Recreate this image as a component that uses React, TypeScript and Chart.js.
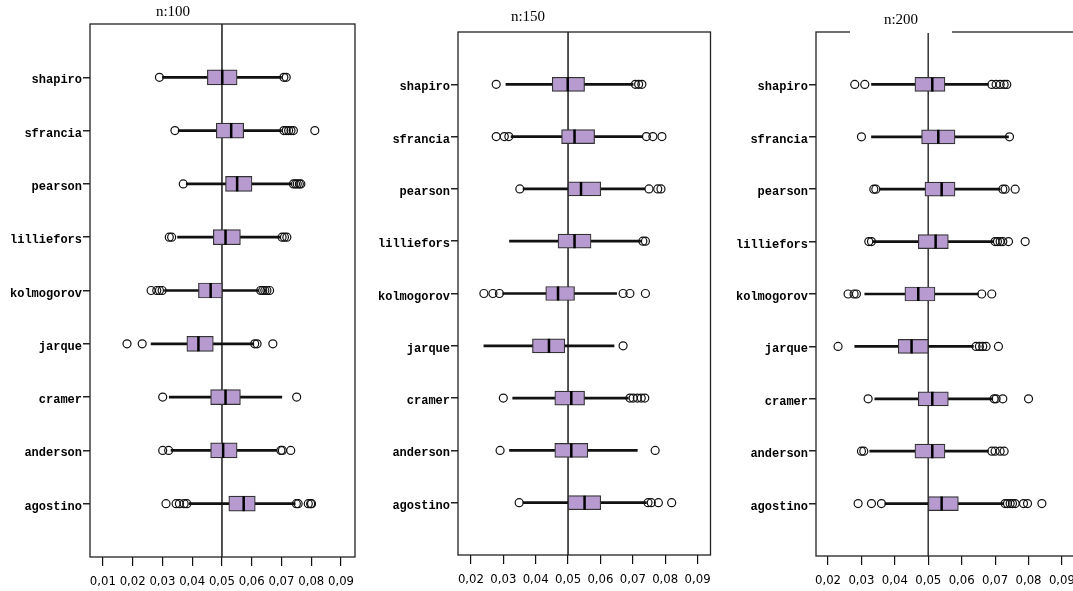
import React, { useEffect, useRef } from 'react';
import { Chart, registerables } from 'chart.js';

Chart.register(...registerables);

const CATEGORIES = ['shapiro', 'sfrancia', 'pearson', 'lilliefors', 'kolmogorov', 'jarque', 'cramer', 'anderson', 'agostino'];
const REF_VALUE = 0.05;
const TITLES = ['n:100', 'n:150', 'n:200'];

// ---- n:100 ----
const N100_Q1 = [0.0451, 0.0481, 0.0512, 0.0471, 0.0421, 0.0382, 0.0462, 0.0462, 0.0523];
const N100_MEDIAN = [0.0501, 0.0531, 0.0551, 0.0512, 0.0462, 0.0421, 0.0512, 0.0504, 0.0573];
const N100_Q3 = [0.0551, 0.0573, 0.0601, 0.0562, 0.0501, 0.0471, 0.0562, 0.0551, 0.0612];
const N100_LO = [0.0300, 0.0353, 0.0380, 0.0351, 0.0307, 0.0262, 0.0323, 0.0329, 0.0390];
const N100_HI = [0.0700, 0.0700, 0.0734, 0.0696, 0.0623, 0.0607, 0.0701, 0.0684, 0.0746];
const N100_OUTLIERS = [
  [0.0290, 0.0708, 0.0716],
  [0.0342, 0.0708, 0.0716, 0.0724, 0.0732, 0.0740, 0.0812],
  [0.0370, 0.0740, 0.0747, 0.0753, 0.0760, 0.0765],
  [0.0323, 0.0331, 0.0702, 0.0710, 0.0718],
  [0.0262, 0.0281, 0.0290, 0.0299, 0.0630, 0.0637, 0.0644, 0.0651, 0.0660],
  [0.0181, 0.0232, 0.0610, 0.0618, 0.0671],
  [0.0301, 0.0751],
  [0.0301, 0.0321, 0.0698, 0.0703, 0.0731],
  [0.0312, 0.0346, 0.0357, 0.0373, 0.0382, 0.0750, 0.0756, 0.0790, 0.0798, 0.0801],
];
const N100_TICKS = [0.01, 0.02, 0.03, 0.04, 0.05, 0.06, 0.07, 0.08, 0.09];
const N100_TICK_LABELS = ['0,01', '0,02', '0,03', '0,04', '0,05', '0,06', '0,07', '0,08', '0,09'];

// ---- n:150 ----
const N150_Q1 = [0.0451, 0.0480, 0.0500, 0.0469, 0.0431, 0.0390, 0.0459, 0.0459, 0.0500];
const N150_MEDIAN = [0.0499, 0.0520, 0.0540, 0.0520, 0.0469, 0.0441, 0.0510, 0.0510, 0.0551];
const N150_Q3 = [0.0551, 0.0582, 0.0601, 0.0571, 0.0520, 0.0490, 0.0551, 0.0561, 0.0601];
const N150_LO = [0.0308, 0.0324, 0.0361, 0.0319, 0.0298, 0.0240, 0.0329, 0.0319, 0.0361];
const N150_HI = [0.0701, 0.0731, 0.0737, 0.0724, 0.0650, 0.0642, 0.0686, 0.0714, 0.0742];
const N150_OUTLIERS = [
  [0.0278, 0.0708, 0.0718, 0.0728],
  [0.0278, 0.0303, 0.0317, 0.0742, 0.0762, 0.0790],
  [0.0351, 0.0750, 0.0777, 0.0787],
  [0.0731, 0.0739],
  [0.0240, 0.0268, 0.0288, 0.0670, 0.0691, 0.0739],
  [0.0670],
  [0.0300, 0.0691, 0.0701, 0.0714, 0.0726, 0.0737],
  [0.0290, 0.0769],
  [0.0349, 0.0747, 0.0757, 0.0779, 0.0820],
];
const N150_TICKS = [0.02, 0.03, 0.04, 0.05, 0.06, 0.07, 0.08, 0.09];
const N150_TICK_LABELS = ['0,02', '0,03', '0,04', '0,05', '0,06', '0,07', '0,08', '0,09'];

// ---- n:200 ----
const N200_Q1 = [0.0460, 0.0480, 0.0490, 0.0470, 0.0430, 0.0410, 0.0470, 0.0460, 0.0500];
const N200_MEDIAN = [0.0512, 0.0530, 0.0540, 0.0522, 0.0470, 0.0450, 0.0512, 0.0512, 0.0540];
const N200_Q3 = [0.0550, 0.0580, 0.0580, 0.0560, 0.0520, 0.0500, 0.0560, 0.0550, 0.0590];
const N200_LO = [0.0330, 0.0330, 0.0355, 0.0335, 0.0310, 0.0280, 0.0340, 0.0325, 0.0370];
const N200_HI = [0.0680, 0.0740, 0.0715, 0.0695, 0.0650, 0.0635, 0.0693, 0.0680, 0.0725];
const N200_OUTLIERS = [
  [0.0280, 0.0310, 0.0690, 0.0703, 0.0715, 0.0727, 0.0735],
  [0.0300, 0.0743],
  [0.0337, 0.0343, 0.0723, 0.0730, 0.0760],
  [0.0322, 0.0330, 0.0700, 0.0707, 0.0715, 0.0723, 0.0740, 0.0790],
  [0.0260, 0.0278, 0.0285, 0.0660, 0.0690],
  [0.0230, 0.0643, 0.0653, 0.0663, 0.0673, 0.0710],
  [0.0320, 0.0697, 0.0703, 0.0723, 0.0800],
  [0.0300, 0.0307, 0.0690, 0.0700, 0.0715, 0.0727],
  [0.0290, 0.0330, 0.0360, 0.0730, 0.0737, 0.0745, 0.0752, 0.0760, 0.0785, 0.0797, 0.0840],
];
const N200_TICKS = [0.02, 0.03, 0.04, 0.05, 0.06, 0.07, 0.08, 0.09];
const N200_TICK_LABELS = ['0,02', '0,03', '0,04', '0,05', '0,06', '0,07', '0,08', '0,09'];

const BOX_COLOR = '#b79bd0';
const Y_LABELS = ['', ...CATEGORIES, ' '];

type PanelData = {
  q1: number[]; med: number[]; q3: number[]; lo: number[]; hi: number[]; outliers: number[][];
  ticks: number[]; tickLabels: string[]; xMin: number; xMax: number;
};

type PanelLayout = {
  left: number; width: number; yAxisWidth: number; padTop: number; padRight: number;
  xAxisHeight: number; barThickness: number;
};

const framePlugin = {
  id: 'frame',
  afterDraw(chart: any) {
    const { ctx, chartArea } = chart;
    ctx.save();
    ctx.strokeStyle = '#222';
    ctx.lineWidth = 1.3;
    ctx.strokeRect(chartArea.left, chartArea.top, chartArea.right - chartArea.left, chartArea.bottom - chartArea.top);
    ctx.restore();
  },
};

function pad(arr: any[]) {
  return [null, ...arr, null];
}

function buildConfig(d: PanelData, l: PanelLayout): any {
  const outlierPoints: { x: number; y: string }[] = [];
  d.outliers.forEach((list, i) => list.forEach((v) => outlierPoints.push({ x: v, y: CATEGORIES[i] })));
  const medianPoints = d.med.map((v, i) => ({ x: v, y: CATEGORIES[i] }));
  const lastIdx = Y_LABELS.length - 1;
  return {
    type: 'bar',
    data: {
      labels: Y_LABELS,
      datasets: [
        {
          type: 'scatter',
          data: [{ x: REF_VALUE, y: Y_LABELS[0] }, { x: REF_VALUE, y: Y_LABELS[lastIdx] }],
          showLine: true,
          borderColor: '#3a3a3a',
          borderWidth: 1,
          pointRadius: 0,
          order: 5,
        },
        {
          type: 'bar',
          data: pad(d.lo.map((v, i) => [v, d.hi[i]])),
          backgroundColor: '#111',
          borderWidth: 0,
          barThickness: 2,
          grouped: false,
          order: 4,
        },
        {
          type: 'bar',
          data: pad(d.q1.map((v, i) => [v, d.q3[i]])),
          backgroundColor: BOX_COLOR,
          borderColor: '#333',
          borderWidth: 1.2,
          borderSkipped: false,
          barThickness: l.barThickness,
          grouped: false,
          order: 3,
        },
        {
          type: 'scatter',
          data: medianPoints,
          pointStyle: 'line',
          rotation: 90,
          pointRadius: l.barThickness / 2,
          borderColor: '#000',
          borderWidth: 2.5,
          order: 2,
        },
        {
          type: 'scatter',
          data: outlierPoints,
          pointStyle: 'circle',
          pointRadius: 4,
          borderColor: '#111',
          borderWidth: 1.2,
          backgroundColor: 'rgba(255,255,255,0)',
          order: 1,
        },
      ],
    },
    options: {
      indexAxis: 'y',
      responsive: false,
      animation: false,
      events: [],
      layout: { padding: { top: l.padTop, right: l.padRight, left: 0, bottom: 0 } },
      plugins: { legend: { display: false }, tooltip: { enabled: false }, title: { display: false } },
      scales: {
        x: {
          type: 'linear',
          min: d.xMin,
          max: d.xMax,
          afterBuildTicks: (scale: any) => {
            scale.ticks = d.ticks.map((v) => ({ value: v }));
          },
          afterFit: (scale: any) => {
            scale.height = l.xAxisHeight;
          },
          border: { display: false },
          grid: { drawOnChartArea: false, drawTicks: true, tickLength: 9, tickColor: '#111', lineWidth: 1.2 },
          ticks: {
            autoSkip: false,
            maxRotation: 0,
            minRotation: 0,
            padding: 8,
            color: '#000',
            font: { family: '"Liberation Sans Narrow", "DejaVu Sans Condensed", sans-serif', size: 13 },
            callback: (_v: any, i: number) => d.tickLabels[i],
          },
        },
        y: {
          type: 'category',
          offset: false,
          afterFit: (scale: any) => {
            scale.width = l.yAxisWidth;
          },
          border: { display: false },
          grid: {
            offset: false,
            drawOnChartArea: false,
            drawTicks: true,
            tickLength: 7,
            lineWidth: 1.5,
            tickColor: (ctx: any) => (ctx.index === 0 || ctx.index === lastIdx ? 'rgba(0,0,0,0)' : '#222'),
          },
          ticks: {
            autoSkip: false,
            padding: 1,
            labelOffset: 3,
            color: '#000',
            font: { family: '"Liberation Mono", "Courier New", monospace', weight: 'bold', size: 12 },
          },
        },
      },
    },
    plugins: [framePlugin],
  };
}

function Panel({ d, l }: { d: PanelData; l: PanelLayout }) {
  const ref = useRef<HTMLCanvasElement | null>(null);
  useEffect(() => {
    if (!ref.current) return;
    const chart = new Chart(ref.current, buildConfig(d, l));
    return () => chart.destroy();
  }, []);
  return (
    <canvas
      ref={ref}
      width={l.width}
      height={591}
      style={{ position: 'absolute', left: l.left, top: 0, width: l.width, height: 591 }}
    />
  );
}

const PANELS: { d: PanelData; l: PanelLayout }[] = [
  {
    d: { q1: N100_Q1, med: N100_MEDIAN, q3: N100_Q3, lo: N100_LO, hi: N100_HI, outliers: N100_OUTLIERS, ticks: N100_TICKS, tickLabels: N100_TICK_LABELS, xMin: 0.00567, xMax: 0.0947 },
    l: { left: 0, width: 365, yAxisWidth: 90, padTop: 24, padRight: 8, xAxisHeight: 34, barThickness: 15 },
  },
  {
    d: { q1: N150_Q1, med: N150_MEDIAN, q3: N150_Q3, lo: N150_LO, hi: N150_HI, outliers: N150_OUTLIERS, ticks: N150_TICKS, tickLabels: N150_TICK_LABELS, xMin: 0.016, xMax: 0.094 },
    l: { left: 370, width: 350, yAxisWidth: 88, padTop: 32, padRight: 7, xAxisHeight: 36, barThickness: 14 },
  },
  {
    d: { q1: N200_Q1, med: N200_MEDIAN, q3: N200_Q3, lo: N200_LO, hi: N200_HI, outliers: N200_OUTLIERS, ticks: N200_TICKS, tickLabels: N200_TICK_LABELS, xMin: 0.0164, xMax: 0.0969 },
    l: { left: 720, width: 380, yAxisWidth: 96, padTop: 32, padRight: 15, xAxisHeight: 35, barThickness: 14 },
  },
];

const titleStyle: React.CSSProperties = {
  position: 'absolute',
  fontFamily: '"Liberation Serif", "Times New Roman", serif',
  fontSize: 15,
  lineHeight: '15px',
  textAlign: 'center',
  color: '#000',
  whiteSpace: 'nowrap',
};

export default function App() {
  return (
    <div style={{ position: 'fixed', left: 0, top: 0, width: 1073, height: 591, overflow: 'hidden', background: '#fff' }}>
      {PANELS.map((p, i) => (
        <Panel key={i} d={p.d} l={p.l} />
      ))}
      <div style={{ ...titleStyle, left: 123, top: 4, width: 100 }}>{TITLES[0]}</div>
      <div style={{ ...titleStyle, left: 478, top: 9, width: 100 }}>{TITLES[1]}</div>
      <div style={{ ...titleStyle, left: 850, top: 12, width: 102, height: 21, background: '#fff' }}>{TITLES[2]}</div>
    </div>
  );
}
